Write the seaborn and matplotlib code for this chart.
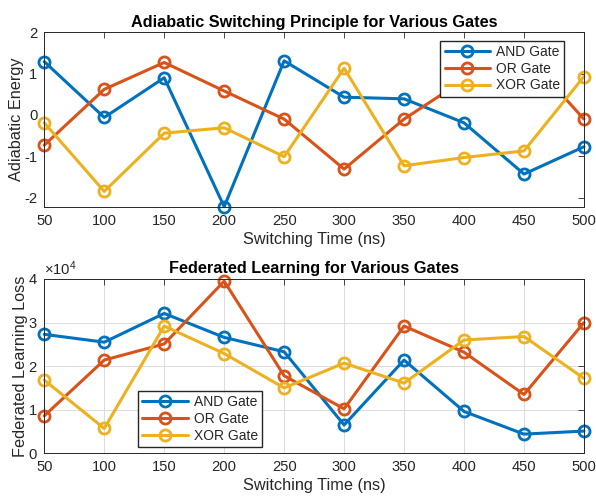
import matplotlib
matplotlib.use("Agg")
import matplotlib.pyplot as plt
import matplotlib.ticker as mticker
import numpy as np
import pandas as pd
import seaborn as sns

sns.set_theme(style="white")
plt.rcParams["font.family"] = ["Liberation Sans", "DejaVu Sans"]
plt.rcParams["mathtext.fontset"] = "custom"
plt.rcParams["mathtext.rm"] = "Liberation Sans"

switching_time = [50, 100, 150, 200, 250, 300, 350, 400, 450, 500]
gates = ["AND Gate", "OR Gate", "XOR Gate"]

energy_and = [1.29, -0.06, 0.90, -2.22, 1.31, 0.43, 0.39, -0.19, -1.43, -0.77]
energy_or = [-0.73, 0.62, 1.27, 0.58, -0.10, -1.31, -0.10, 0.85, 1.50, -0.10]
energy_xor = [-0.19, -1.85, -0.44, -0.31, -1.01, 1.13, -1.23, -1.03, -0.87, 0.93]

loss_and = [27300, 25500, 32100, 26600, 23300, 6500, 21400, 9600, 4400, 5100]
loss_or = [8600, 21400, 25100, 39500, 17800, 10200, 29200, 23200, 13500, 30000]
loss_xor = [16800, 5700, 29200, 22900, 15000, 20700, 16100, 26000, 26800, 17200]

colors = ["#0072BD", "#D95319", "#EDB120"]
text_color = "#262626"

def long_frame(series, col):
    rows = []
    for gate, vals in zip(gates, series):
        for t, v in zip(switching_time, vals):
            rows.append({"time": t, col: v, "gate": gate})
    return pd.DataFrame(rows)

energy_df = long_frame([energy_and, energy_or, energy_xor], "energy")
loss_df = long_frame([loss_and, loss_or, loss_xor], "loss")

fig = plt.figure(figsize=(5.96, 5.0), dpi=100)
ax1 = fig.add_axes([0.0743, 0.5866, 0.9055, 0.3488])
ax2 = fig.add_axes([0.0743, 0.0934, 0.9055, 0.3486])

def draw(ax, df, col):
    for gate, c in zip(gates, colors):
        sub = df[df["gate"] == gate]
        sns.lineplot(data=sub, x="time", y=col, ax=ax, color=c,
                     legend=False, label=gate, marker="o", markersize=8,
                     markerfacecolor="none", markeredgecolor=c,
                     markeredgewidth=2, linewidth=2.2)
    for ln in ax.lines:
        ln.set_clip_on(False)

draw(ax1, energy_df, "energy")
draw(ax2, loss_df, "loss")

tick_size = 10.6
label_size = 11.7
title_size = 11.7

for ax in (ax1, ax2):
    ax.set_xlim(50, 500)
    ax.set_xticks(switching_time)
    ax.tick_params(direction="in", length=4, width=0.6, top=True, right=True,
                   labelsize=tick_size, colors=text_color, pad=5)
    for s in ax.spines.values():
        s.set_color(text_color)
        s.set_linewidth(0.7)
    ax.set_xlabel("Switching Time (ns)", fontsize=label_size, color=text_color, labelpad=3)

legend_kw = dict(fontsize=10, frameon=True, fancybox=False,
                 edgecolor=text_color, framealpha=1, handlelength=3.3,
                 borderpad=0.3, labelspacing=0.2, handletextpad=0.4,
                 borderaxespad=0)

ax1.set_ylim(-2.22, 2)
ax1.set_yticks([-2, -1, 0, 1, 2])
ax1.set_yticklabels(["-2", "-1", "0", "1", "2"])
ax1.set_ylabel("Adiabatic Energy", fontsize=label_size, color=text_color, labelpad=0)
ax1.set_title("Adiabatic Switching Principle for Various Gates",
              fontsize=title_size, fontweight="bold", color="black", pad=4)
leg1 = ax1.legend(handles=ax1.lines[:3], labels=gates, loc="upper right",
                  bbox_to_anchor=(0.9635, 0.952), **legend_kw)
leg1.set_zorder(5)

ax2.set_ylim(0, 40000)
ax2.set_yticks([0, 10000, 20000, 30000, 40000])
fmt = mticker.ScalarFormatter(useMathText=True)
fmt.set_powerlimits((0, 0))
ax2.yaxis.set_major_formatter(fmt)
ax2.yaxis.get_offset_text().set_fontsize(tick_size)
ax2.yaxis.get_offset_text().set_color(text_color)
ax2.grid(True, color="#dcdcdc", linewidth=0.7)
ax2.set_axisbelow(True)
ax2.set_ylabel("Federated Learning Loss", fontsize=label_size, color=text_color, labelpad=0)
ax2.set_title("Federated Learning for Various Gates",
              fontsize=title_size, fontweight="bold", color="black", pad=4)
leg2 = ax2.legend(handles=ax2.lines[:3], labels=gates, loc="lower left",
                  bbox_to_anchor=(0.174, 0.038), **legend_kw)
leg2.set_zorder(5)

fig.savefig("out.png", dpi=100)
